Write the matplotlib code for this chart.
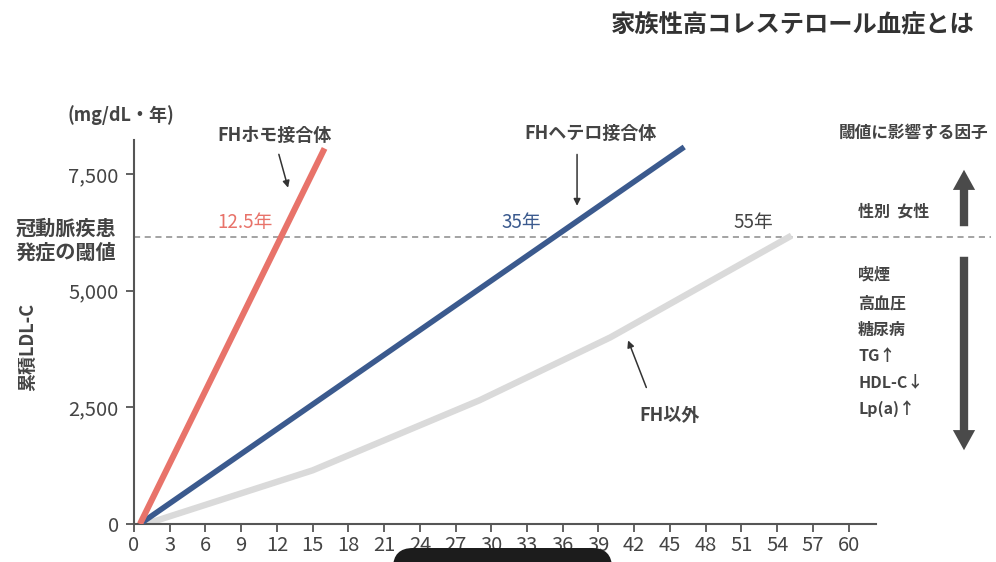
import matplotlib
matplotlib.use("Agg")
import matplotlib.pyplot as plt
from matplotlib.patches import FancyArrowPatch, FancyBboxPatch
import numpy as np

plt.rcParams["font.family"] = ["Noto Sans CJK JP", "DejaVu Sans"]

# 累積LDL-C（mg/dL・年）の推移
homo_years = [0.5, 16.0]
homo_ldl = [0, 8050]

hetero_years = [0.5, 46.2]
hetero_ldl = [0, 8080]

nonfh_years = [1.0, 15.0, 29.0, 40.0, 55.2]
nonfh_ldl = [0, 1150, 2650, 4000, 6180]

threshold = 6150
x_ticks = list(range(0, 61, 3))
y_ticks = [0, 2500, 5000, 7500]
y_ticklabels = ["0", "2,500", "5,000", "7,500"]

TXT = "#444444"
RED = "#E8736A"
BLUE = "#3B5A8E"
GREY = "#DADADA"

fig = plt.figure(figsize=(9.96, 5.62), dpi=100)
fig.patch.set_facecolor("white")
ax = fig.add_axes([134 / 996, 38 / 562, 742 / 996, 384 / 562])

ax.plot(nonfh_years, nonfh_ldl, color=GREY, lw=4.6, solid_capstyle="butt", zorder=2)
ax.plot(hetero_years, hetero_ldl, color=BLUE, lw=4.0, solid_capstyle="butt", zorder=3)
ax.plot(homo_years, homo_ldl, color=RED, lw=4.4, solid_capstyle="butt", zorder=4)

# 閾値の破線（右側の注記まで延ばす）
ax.plot([0, 1.155], [threshold, threshold], transform=ax.get_yaxis_transform(),
        color="#8a8a8a", lw=1.1, ls=(0, (4, 3)), clip_on=False, zorder=1)

ax.set_xlim(0, 62.3)
ax.set_ylim(0, 8230)
ax.set_xticks(x_ticks)
ax.set_xticklabels([str(t) for t in x_ticks])
ax.set_yticks(y_ticks)
ax.set_yticklabels(y_ticklabels)
ax.tick_params(axis="both", colors="#555555", labelcolor=TXT, labelsize=14.5,
               width=1.3, length=6)
ax.tick_params(axis="x", pad=2)
ax.tick_params(axis="y", pad=5)
for s in ["top", "right"]:
    ax.spines[s].set_visible(False)
for s in ["left", "bottom"]:
    ax.spines[s].set_color("#555555")
    ax.spines[s].set_linewidth(1.5)

# 線ごとのラベルと矢印
ax.text(11.8, 8330, "FHホモ接合体", ha="center", va="center", fontsize=13,
        fontweight="bold", color=TXT, clip_on=False)
ax.annotate("", xy=(13.0, 7150), xytext=(12.1, 7980),
            arrowprops=dict(arrowstyle="-|>", color="#333333", lw=1.1,
                            mutation_scale=10))
ax.text(9.3, 6470, "12.5年", ha="center", va="center", fontsize=13.5, color=RED)

ax.text(38.3, 8380, "FHヘテロ接合体", ha="center", va="center", fontsize=13,
        fontweight="bold", color=TXT, clip_on=False)
ax.annotate("", xy=(37.2, 6760), xytext=(37.2, 7980),
            arrowprops=dict(arrowstyle="-|>", color="#333333", lw=1.1,
                            mutation_scale=10))
ax.text(32.5, 6470, "35年", ha="center", va="center", fontsize=13.5, color=BLUE)

ax.text(52.0, 6470, "55年", ha="center", va="center", fontsize=13.5, color=TXT)

ax.text(45.0, 2330, "FH以外", ha="center", va="center", fontsize=13,
        fontweight="bold", color=TXT)
ax.annotate("", xy=(41.4, 3990), xytext=(43.1, 2870),
            arrowprops=dict(arrowstyle="-|>", color="#333333", lw=1.1,
                            mutation_scale=10))

# 左側のラベル
W, H = 996, 562
fig.text(121 / W, 1 - 115 / H, "(mg/dL・年)", ha="center", va="center",
         fontsize=13, fontweight="bold", color=TXT)
fig.text(66 / W, 1 - 240 / H, "冠動脈疾患\n発症の閾値", ha="center", va="center",
         fontsize=14.5, fontweight="bold", color=TXT, linespacing=1.15)
fig.text(28 / W, 1 - 347 / H, "累積LDL-C", ha="center", va="center",
         fontsize=13, fontweight="bold", color=TXT, rotation=90)

# タイトル
fig.text(975 / W, 1 - 25 / H, "家族性高コレステロール血症とは", ha="right",
         va="center", fontsize=17.5, fontweight="bold", color="#333333")

# 右側：閾値に影響する因子
fig.text(914 / W, 1 - 133 / H, "閾値に影響する因子", ha="center", va="center",
         fontsize=12, fontweight="bold", color=TXT)
fig.text(858 / W, 1 - 212 / H, "性別  女性", ha="left", va="center",
         fontsize=11.5, fontweight="bold", color=TXT)
factors = ["喫煙", "高血圧", "糖尿病", "TG↑", "HDL-C↓", "Lp(a)↑"]
factor_y = [275, 304, 330, 356, 382, 409]
for f, yy in zip(factors, factor_y):
    fig.text(858 / W, 1 - yy / H, f, ha="left", va="center", fontsize=11.5,
             fontweight="bold", color=TXT)

big = dict(arrowstyle="simple,head_length=1.45,head_width=1.6,tail_width=0.6",
           mutation_scale=10, color="#4a4a4a", lw=0, transform=fig.transFigure)
fig.add_artist(FancyArrowPatch((964 / W, 1 - 229 / H), (964 / W, 1 - 167 / H), **big))
fig.add_artist(FancyArrowPatch((964 / W, 1 - 254 / H), (964 / W, 1 - 453 / H), **big))

# 下部の黒い帯
blk = FancyBboxPatch((3.93, -0.3), 2.19, 0.44,
                     boxstyle="round,pad=0,rounding_size=0.2",
                     transform=fig.dpi_scale_trans, facecolor="#1c1c1c",
                     edgecolor="none", zorder=10)
fig.add_artist(blk)

fig.savefig("out.png", dpi=100, facecolor="white")
